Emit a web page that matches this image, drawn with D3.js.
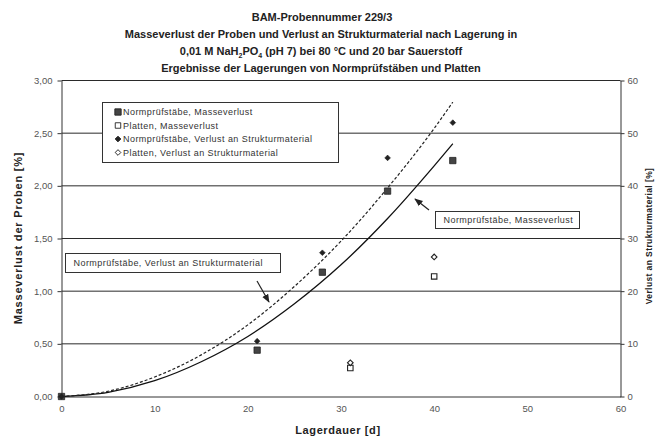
<!DOCTYPE html>
<html>
<head>
<meta charset="utf-8">
<script src="https://cdn.jsdelivr.net/npm/d3@7"></script>
<style>
  body { margin: 0; background: #fff; }
  svg { font-family: "Liberation Sans", Arial, sans-serif; }
</style>
</head>
<body>
<div id="chart"></div>
<script>
// Messpunkte
var normDays = [0, 21, 28, 35, 42];
var normMasse = [0, 0.44, 1.18, 1.95, 2.24];        // % (linke Achse)
var normStruktur = [0, 10.5, 27.3, 45.3, 52.0];     // % (rechte Achse)
var plattenDays = [31, 40];
var plattenMasse = [0.27, 1.14];
var plattenStruktur = [6.4, 26.5];

// Trendlinien
var trendDays = [0, 5, 10, 15, 20, 25, 30, 35, 40, 42];
var trendMasse = [0, 0.04, 0.15, 0.33, 0.57, 0.88, 1.25, 1.69, 2.19, 2.40];
var trendStruktur = [0, 1.0, 3.7, 7.9, 13.6, 20.9, 29.5, 39.6, 50.9, 55.9];

var xTicks = [0, 10, 20, 30, 40, 50, 60];
var yLeftTicks = [0, 0.5, 1, 1.5, 2, 2.5, 3];
var yRightTicks = [0, 10, 20, 30, 40, 50, 60];

var legendLabels = [
  "Normprüfstäbe, Masseverlust",
  "Platten, Masseverlust",
  "Normprüfstäbe, Verlust an Strukturmaterial",
  "Platten, Verlust an Strukturmaterial"
];

var width = 661, height = 437;
var ink = "#222";

var svg = d3.select("#chart").append("svg")
    .attr("width", width)
    .attr("height", height);

var x = d3.scaleLinear().domain([0, 60]).range([61.5, 620.5]);
var yL = d3.scaleLinear().domain([0, 3]).range([396.5, 80.5]);
var yR = d3.scaleLinear().domain([0, 60]).range([396.5, 80.5]);

// Titel
var title = svg.append("g")
    .attr("text-anchor", "middle")
    .attr("font-weight", "bold")
    .attr("font-size", "11px")
    .attr("fill", ink);
title.append("text").attr("x", 322).attr("y", 21).text("BAM-Probennummer 229/3");
title.append("text").attr("x", 321).attr("y", 38)
    .text("Masseverlust der Proben und Verlust an Strukturmaterial nach Lagerung in");
var t3 = title.append("text").attr("x", 321).attr("y", 55);
t3.append("tspan").text("0,01 M NaH");
t3.append("tspan").attr("font-size", "7px").attr("dy", 3).text("2");
t3.append("tspan").attr("dy", -3).text("PO");
t3.append("tspan").attr("font-size", "7px").attr("dy", 3).text("4");
t3.append("tspan").attr("dy", -3).text(" (pH 7) bei 80 °C und 20 bar Sauerstoff");
title.append("text").attr("x", 321).attr("y", 72)
    .text("Ergebnisse der Lagerungen von Normprüfstäben und Platten");

// Gitterlinien
svg.append("g")
  .selectAll("line")
  .data(yLeftTicks.slice(1))
  .enter().append("line")
    .attr("x1", x(0)).attr("x2", x(60))
    .attr("y1", function(d) { return yL(d); })
    .attr("y2", function(d) { return yL(d); })
    .attr("stroke", "#2a2a2a")
    .attr("stroke-width", 1);

// Achsen
var axisLeft = svg.append("g")
    .attr("transform", "translate(" + x(0) + ",0)")
    .call(d3.axisLeft(yL).tickValues(yLeftTicks).tickSize(4).tickSizeOuter(0)
      .tickFormat(function(d) { return d3.format(".2f")(d).replace(".", ","); }));

var axisRight = svg.append("g")
    .attr("transform", "translate(" + x(60) + ",0)")
    .call(d3.axisRight(yR).tickValues(yRightTicks).tickSize(4).tickSizeOuter(0));

var axisBottom = svg.append("g")
    .attr("transform", "translate(0," + yL(0) + ")")
    .call(d3.axisBottom(x).tickValues(xTicks).tickSize(0).tickPadding(9).tickSizeOuter(0));

[axisLeft, axisRight, axisBottom].forEach(function(a) {
  a.select(".domain").attr("stroke", "#333");
  a.selectAll(".tick line").attr("stroke", "#333");
  a.selectAll("text")
    .attr("font-family", "'Liberation Sans', Arial, sans-serif")
    .attr("font-size", "9.5px")
    .attr("fill", "#555");
});
axisLeft.selectAll("text").attr("x", -9);
axisRight.selectAll("text").attr("x", 7);

// Achsentitel
svg.append("text")
    .attr("transform", "translate(22,238) rotate(-90)")
    .attr("text-anchor", "middle")
    .attr("font-weight", "bold")
    .attr("font-size", "11px")
    .attr("letter-spacing", "0.8px")
    .attr("fill", ink)
    .text("Masseverlust der Proben [%]");

svg.append("text")
    .attr("transform", "translate(652,236) rotate(-90)")
    .attr("text-anchor", "middle")
    .attr("font-weight", "bold")
    .attr("font-size", "8.5px")
    .attr("letter-spacing", "0.4px")
    .attr("fill", ink)
    .text("Verlust an Strukturmaterial [%]");

svg.append("text")
    .attr("x", 338).attr("y", 434)
    .attr("text-anchor", "middle")
    .attr("font-weight", "bold")
    .attr("font-size", "11px")
    .attr("letter-spacing", "0.6px")
    .attr("fill", ink)
    .text("Lagerdauer [d]");

// Trendlinien
var line = d3.line().curve(d3.curveMonotoneX);

svg.append("path")
    .attr("d", line(trendDays.map(function(d, i) { return [x(d), yL(trendMasse[i])]; })))
    .attr("fill", "none")
    .attr("stroke", "#111")
    .attr("stroke-width", 1.3);

svg.append("path")
    .attr("d", line(trendDays.map(function(d, i) { return [x(d), yR(trendStruktur[i])]; })))
    .attr("fill", "none")
    .attr("stroke", "#222")
    .attr("stroke-width", 1.2)
    .attr("stroke-dasharray", "3,2");

// Messpunkte
var sqFilled = d3.symbol().type(d3.symbolSquare).size(40);
var sqOpen = d3.symbol().type(d3.symbolSquare).size(30);
var diamond = d3.symbol().type(d3.symbolSquare).size(16);   // um 45° gedreht

svg.append("g").selectAll("path")
  .data(normDays)
  .enter().append("path")
    .attr("d", sqFilled)
    .attr("transform", function(d, i) { return "translate(" + x(d) + "," + yL(normMasse[i]) + ")"; })
    .attr("fill", "#444").attr("stroke", "#222").attr("stroke-width", 0.8);

svg.append("g").selectAll("path")
  .data(normDays)
  .enter().append("path")
    .attr("d", diamond)
    .attr("transform", function(d, i) { return "translate(" + x(d) + "," + yR(normStruktur[i]) + ") rotate(45)"; })
    .attr("fill", "#222").attr("stroke", "#222").attr("stroke-width", 0.6);

svg.append("g").selectAll("path")
  .data(plattenDays)
  .enter().append("path")
    .attr("d", sqOpen)
    .attr("transform", function(d, i) { return "translate(" + x(d) + "," + yL(plattenMasse[i]) + ")"; })
    .attr("fill", "#fff").attr("stroke", "#222").attr("stroke-width", 1.1);

svg.append("g").selectAll("path")
  .data(plattenDays)
  .enter().append("path")
    .attr("d", diamond)
    .attr("transform", function(d, i) { return "translate(" + x(d) + "," + yR(plattenStruktur[i]) + ") rotate(45)"; })
    .attr("fill", "#fff").attr("stroke", "#222").attr("stroke-width", 1.1);

// Legende
var legend = svg.append("g");
legend.append("rect")
    .attr("x", 102.5).attr("y", 102.5)
    .attr("width", 236).attr("height", 60)
    .attr("fill", "#fff").attr("stroke", "#333");

var legendSymbols = [
  { sym: sqFilled, fill: "#444", rot: 0 },
  { sym: sqOpen, fill: "#fff", rot: 0 },
  { sym: diamond, fill: "#222", rot: 45 },
  { sym: diamond, fill: "#fff", rot: 45 }
];
var row = legend.selectAll(".row")
  .data(legendLabels)
  .enter().append("g")
    .attr("class", "row")
    .attr("transform", function(d, i) { return "translate(118," + (112 + i * 13.5) + ")"; });
row.append("path")
    .attr("d", function(d, i) { return legendSymbols[i].sym(); })
    .attr("transform", function(d, i) { return "rotate(" + legendSymbols[i].rot + ")"; })
    .attr("fill", function(d, i) { return legendSymbols[i].fill; })
    .attr("stroke", "#222").attr("stroke-width", 0.9);
row.append("text")
    .attr("x", 5).attr("dy", "0.35em")
    .attr("font-size", "9px")
    .attr("letter-spacing", "0.45px")
    .attr("fill", "#333")
    .text(function(d) { return d; });

// Beschriftungen mit Pfeil
var defs = svg.append("defs");
defs.append("marker")
    .attr("id", "arrow")
    .attr("viewBox", "0 0 10 10")
    .attr("refX", 9).attr("refY", 5)
    .attr("markerWidth", 7).attr("markerHeight", 7)
    .attr("orient", "auto")
  .append("path")
    .attr("d", "M0,1 L10,5 L0,9 z")
    .attr("fill", "#222");

function note(bx, by, bw, bh, label, ax1, ay1, ax2, ay2) {
  svg.append("rect")
      .attr("x", bx).attr("y", by).attr("width", bw).attr("height", bh)
      .attr("fill", "#fff").attr("stroke", "#333");
  svg.append("text")
      .attr("x", bx + 8).attr("y", by + bh / 2).attr("dy", "0.35em")
      .attr("font-size", "9px")
      .attr("letter-spacing", "0.45px")
      .attr("fill", "#333")
      .text(label);
  svg.append("line")
      .attr("x1", ax1).attr("y1", ay1).attr("x2", ax2).attr("y2", ay2)
      .attr("stroke", "#222").attr("stroke-width", 1.2)
      .attr("marker-end", "url(#arrow)");
}
note(65.5, 253.5, 215, 19, "Normprüfstäbe, Verlust an Strukturmaterial", 257, 281, 269, 302);
note(435.5, 211.5, 144, 17, "Normprüfstäbe, Masseverlust", 429, 210, 415, 199);
</script>
</body>
</html>
